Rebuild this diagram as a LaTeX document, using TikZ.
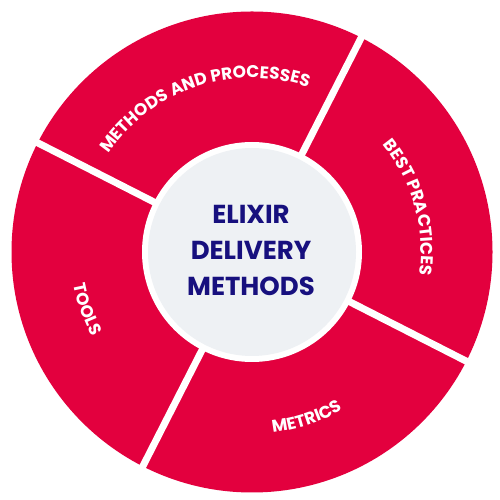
\documentclass[tikz,border=0pt]{standalone}
\usepackage{fontspec}
\usetikzlibrary{decorations.text,calc}
\newfontfamily\popfont{Poppins}
\definecolor{ringred}{HTML}{E3003E}
\definecolor{hubgray}{HTML}{EEF1F4}
\definecolor{navy}{HTML}{17107E}
\newcommand{\labfont}{\popfont\bfseries\fontsize{17}{20}\selectfont}
\newcommand{\hubfont}{\popfont\bfseries\fontsize{26}{36}\selectfont}
\tikzset{
  gapline/.style={white, line width=7pt},
  arclabel/.style={decorate, decoration={text along path, text align=center, text color=white, text={|\labfont|#1}}}
}
\begin{document}
\begin{tikzpicture}[x=1pt,y=1pt]
\useasboundingbox (0,0) rectangle (500,500);
\fill[white] (0,0) rectangle (500,500);
\coordinate (c) at (252,248);
\fill[ringred] (c) circle[radius=240.5];
\foreach \a in {63,153,243,333} \draw[gapline] (c) -- ++(\a:250);
\fill[white] (c) circle[radius=110];
\fill[hubgray] (c) circle[radius=104];
\node[text=navy, align=center, font=\hubfont, inner sep=0pt] (hub) at (251,250) {ELIXIR\\DELIVERY\\METHODS};
\path[arclabel={METHODS AND PROCESSES}] ($(c)+(158.4:174)$) arc[start angle=158.4, end angle=58.4, radius=174];
\path[arclabel={BEST PRACTICES}] ($(c)+(55.7:169)$) arc[start angle=55.7, end angle=-24.3, radius=169];
\path[arclabel={METRICS}] ($(c)+(-111.75:182)$) arc[start angle=-111.75, end angle=-31.75, radius=182];
\path[arclabel={TOOLS}] ($(c)+(159.1:181)$) arc[start angle=159.1, end angle=239.1, radius=181];
\end{tikzpicture}
\end{document}
